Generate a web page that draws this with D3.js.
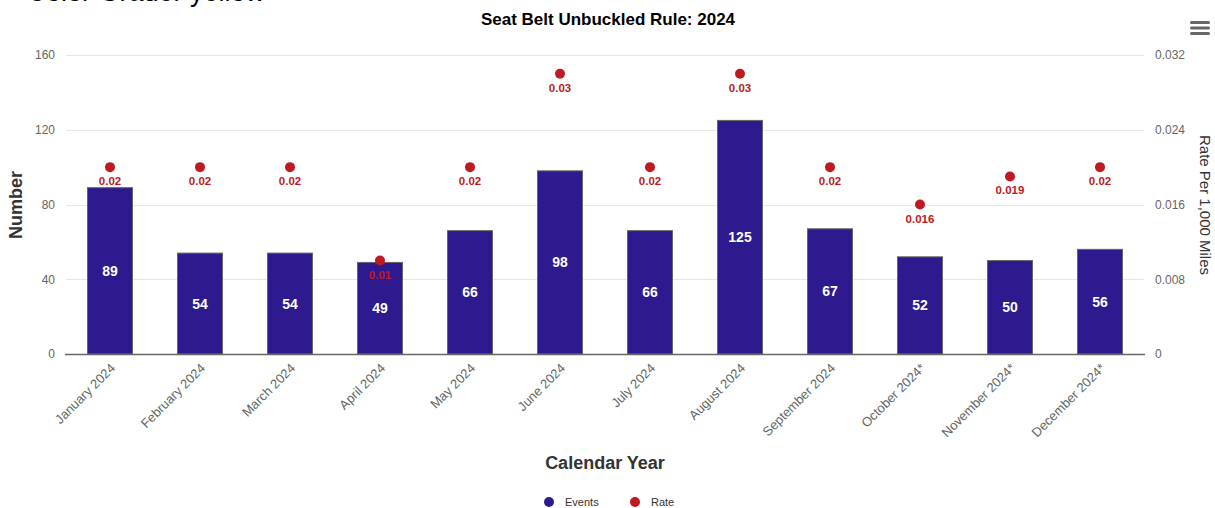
<!DOCTYPE html>
<html><head><meta charset="utf-8">
<script src="https://cdn.jsdelivr.net/npm/d3@7"></script>
<style>
body{margin:0;background:#fff;}
svg{display:block;font-family:"Liberation Sans",Arial,sans-serif;}
</style></head>
<body><svg id="c" width="1215" height="508"></svg>
<script>
const categories = ["January 2024","February 2024","March 2024","April 2024","May 2024","June 2024","July 2024","August 2024","September 2024","October 2024*","November 2024*","December 2024*"];
const events = [89,54,54,49,66,98,66,125,67,52,50,56];
const rates = [0.02,0.02,0.02,0.01,0.02,0.03,0.02,0.03,0.02,0.016,0.019,0.02];
const leftTicks = [0,40,80,120,160];
const rightTicks = [0,0.008,0.016,0.024,0.032];

const svg = d3.select("#c");
const x0=65,x1=1145,yTop=55,yBot=354;
const x = d3.scaleBand().domain(categories).range([x0,x1]).paddingInner(0.5).paddingOuter(0.25);
const yL = d3.scaleLinear().domain([0,160]).range([yBot,yTop]);
const yR = d3.scaleLinear().domain([0,0.032]).range([yBot,yTop]);

// clipped stray header text
svg.append("text").attr("x",265).attr("y",1).attr("text-anchor","end")
  .attr("font-size",27).attr("fill","#000").text("Color Grader yellow");

// grid
svg.append("g").selectAll("line").data(leftTicks).join("line")
  .attr("x1",x0+1).attr("x2",x1-1).attr("y1",d=>Math.round(yL(d))+0.5).attr("y2",d=>Math.round(yL(d))+0.5)
  .attr("stroke","#e6e6e6").attr("stroke-width",1);

// left axis labels
const gl = svg.append("g").attr("transform",`translate(${x0},0)`)
  .call(d3.axisLeft(yL).tickValues(leftTicks).tickSize(0).tickPadding(10));
gl.select(".domain").remove();
gl.selectAll("text").attr("fill","#666").attr("font-size",12).attr("font-family","Liberation Sans, Arial, sans-serif");

// right axis labels
const gr = svg.append("g").attr("transform",`translate(${x1},0)`)
  .call(d3.axisRight(yR).tickValues(rightTicks).tickFormat(d=>d===0?"0":d3.format(".3f")(d)).tickSize(0).tickPadding(10));
gr.select(".domain").remove();
gr.selectAll("text").attr("fill","#666").attr("font-size",12).attr("font-family","Liberation Sans, Arial, sans-serif");

// bars
svg.append("g").selectAll("rect").data(events).join("rect")
  .attr("x",(d,i)=>x(categories[i])).attr("width",x.bandwidth())
  .attr("y",d=>yL(d)).attr("height",d=>yBot-yL(d))
  .attr("fill","#2e1a8e").attr("stroke","#666").attr("stroke-width",1);

// x axis line
svg.append("line").attr("x1",x0).attr("x2",x1).attr("y1",yBot+0.5).attr("y2",yBot+0.5)
  .attr("stroke","#666").attr("stroke-width",1.5);

// bar labels
svg.append("g").selectAll("text").data(events).join("text")
  .attr("x",(d,i)=>x(categories[i])+x.bandwidth()/2)
  .attr("y",d=>(yL(d)+yBot)/2+5)
  .attr("text-anchor","middle").attr("font-size",14).attr("font-weight","bold")
  .attr("fill","#fff").text(d=>d);

// rate dots
svg.append("g").selectAll("circle").data(rates).join("circle")
  .attr("cx",(d,i)=>x(categories[i])+x.bandwidth()/2).attr("cy",d=>yR(d))
  .attr("r",5).attr("fill","#bd1a22");
svg.append("g").selectAll("text").data(rates).join("text")
  .attr("x",(d,i)=>x(categories[i])+x.bandwidth()/2).attr("y",d=>yR(d)+18)
  .attr("text-anchor","middle").attr("font-size",11.5).attr("font-weight","bold")
  .attr("fill","#bd1a22").text(d=>String(d));

// x tick labels
svg.append("g").selectAll("text").data(categories).join("text")
  .attr("transform",d=>`translate(${x(d)+x.bandwidth()/2+6},${yBot+15}) rotate(-45)`)
  .attr("text-anchor","end").attr("font-size",13).attr("fill","#666").text(d=>d);

// titles
svg.append("text").attr("x",608).attr("y",25).attr("text-anchor","middle")
  .attr("font-size",17).attr("font-weight","bold").attr("fill","#000").text("Seat Belt Unbuckled Rule: 2024");
svg.append("text").attr("transform",`translate(22,205) rotate(-90)`).attr("text-anchor","middle")
  .attr("font-size",18).attr("font-weight","bold").attr("fill","#333").text("Number");
svg.append("text").attr("transform",`translate(1200,205) rotate(90)`).attr("text-anchor","middle")
  .attr("font-size",15).attr("fill","#333").text("Rate Per 1,000 Miles");
svg.append("text").attr("x",605).attr("y",469).attr("text-anchor","middle")
  .attr("font-size",18).attr("font-weight","bold").attr("fill","#333").text("Calendar Year");

// legend
const legend=[{n:"Events",c:"#2e1a8e",x:549},{n:"Rate",c:"#bd1a22",x:635}];
const lg=svg.append("g").selectAll("g").data(legend).join("g").attr("transform",d=>`translate(${d.x},502)`);
lg.append("circle").attr("r",5).attr("fill",d=>d.c);
lg.append("text").attr("x",16).attr("y",4).attr("font-size",11).attr("fill","#333").text(d=>d.n);

// menu icon
svg.append("g").selectAll("rect").data([0,1,2]).join("rect")
  .attr("x",1190).attr("y",d=>21+d*5.5).attr("width",20).attr("height",3).attr("rx",1.5).attr("fill","#666");
</script></body></html>
